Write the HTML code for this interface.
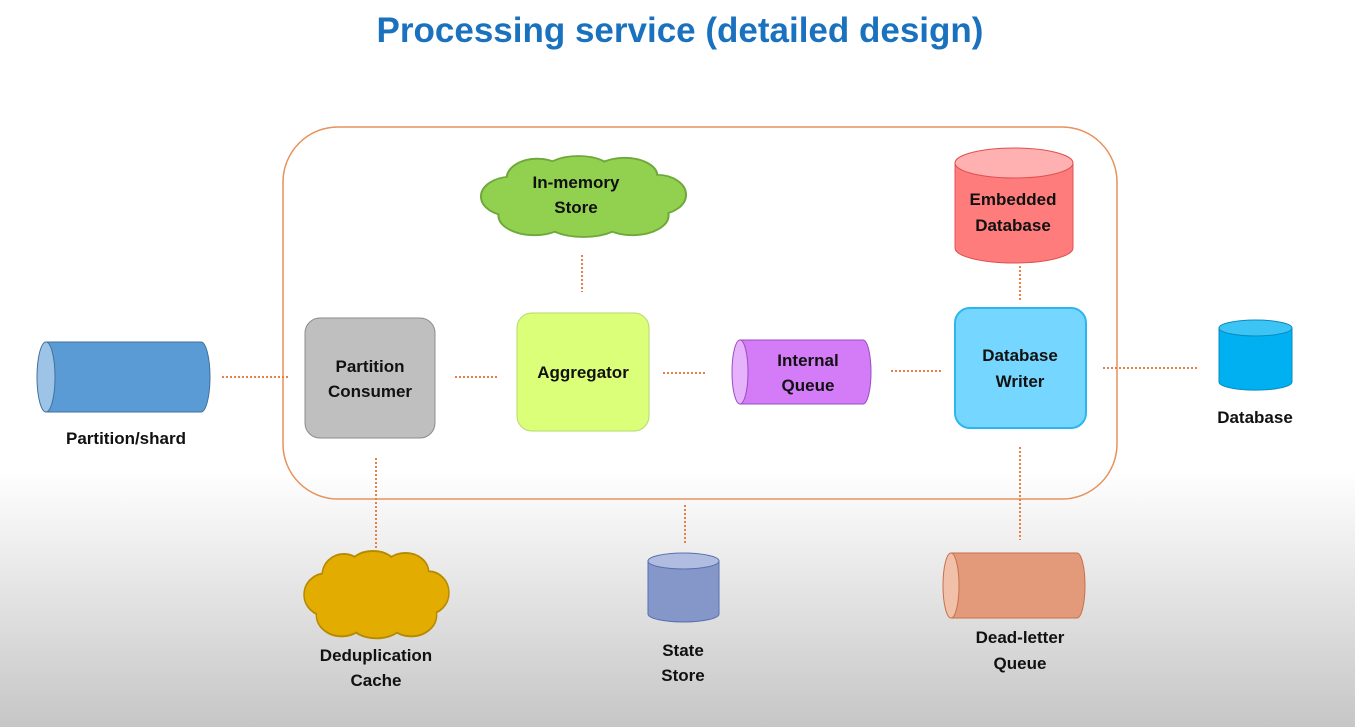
<!DOCTYPE html>
<html><head><meta charset="utf-8"><style>
html,body{margin:0;padding:0}
body{width:1355px;height:727px;overflow:hidden;background:linear-gradient(#fff 0,#fff 470px,#c6c6c6 727px);font-family:"Liberation Sans",sans-serif}
svg{display:block}
text{font-family:"Liberation Sans",sans-serif;font-weight:bold;fill:#111}
</style></head><body>
<svg width="1355" height="727" viewBox="0 0 1355 727">
<defs>
<g id="cl">
<ellipse cx="30" cy="45" rx="30" ry="22"/><ellipse cx="55" cy="25" rx="30" ry="22"/><ellipse cx="95" cy="19" rx="35" ry="19"/><ellipse cx="140" cy="22" rx="32" ry="20"/><ellipse cx="172" cy="43" rx="28" ry="22"/><ellipse cx="148" cy="66" rx="35" ry="22"/><ellipse cx="100" cy="70" rx="40" ry="20"/><ellipse cx="52" cy="66" rx="35" ry="22"/><ellipse cx="100" cy="45" rx="70" ry="30"/>
</g>
</defs>
<text x="680" y="42" text-anchor="middle" font-size="35" style="fill:#1a72bf">Processing service (detailed design)</text>
<rect x="283" y="127" width="834" height="372" rx="55" fill="none" stroke="#e8915a" stroke-width="1.5"/>
<g stroke="#e8804a" stroke-width="2" stroke-dasharray="2 2" fill="none">
<line x1="222" y1="377" x2="290" y2="377"/><line x1="455" y1="377" x2="497" y2="377"/>
<line x1="663" y1="373" x2="705" y2="373"/><line x1="891" y1="371" x2="943" y2="371"/>
<line x1="1103" y1="368" x2="1199" y2="368"/><line x1="1020" y1="266" x2="1020" y2="302"/>
<line x1="582" y1="255" x2="582" y2="292"/><line x1="376" y1="458" x2="376" y2="549"/>
<line x1="685" y1="505" x2="685" y2="545"/><line x1="1020" y1="447" x2="1020" y2="540"/>
</g>
<!-- partition/shard -->
<path d="M46 342 H201 A9 35 0 0 1 201 412 H46 Z" fill="#5b9bd5" stroke="#41719c"/>
<ellipse cx="46" cy="377" rx="9" ry="35" fill="#9dc3e6" stroke="#41719c"/>
<text x="126" y="444" text-anchor="middle" font-size="17">Partition/shard</text>
<rect x="305" y="318" width="130" height="120" rx="15" fill="#bfbfbf" stroke="#8c8c8c"/>
<text x="370" y="372" text-anchor="middle" font-size="17">Partition</text><text x="370" y="397" text-anchor="middle" font-size="17">Consumer</text>
<rect x="517" y="313" width="132" height="118" rx="15" fill="#dbff78" stroke="#b5d96a"/>
<text x="583" y="378" text-anchor="middle" font-size="17">Aggregator</text>
<path d="M740 340 H863 A8 32 0 0 1 863 404 H740 Z" fill="#d47cf7" stroke="#9a4cc0"/>
<ellipse cx="740" cy="372" rx="8" ry="32" fill="#e6b2fb" stroke="#9a4cc0"/>
<text x="808" y="366" text-anchor="middle" font-size="17">Internal</text><text x="808" y="391" text-anchor="middle" font-size="17">Queue</text>
<rect x="955" y="308" width="131" height="120" rx="15" fill="#75d7ff" stroke="#2db5f0" stroke-width="2"/>
<text x="1020" y="361" text-anchor="middle" font-size="17">Database</text><text x="1020" y="387" text-anchor="middle" font-size="17">Writer</text>
<path d="M1219 328 V382 A36 8 0 0 0 1292 382 V328 Z" fill="#00b0f0" stroke="#0a8ac0"/>
<ellipse cx="1255.5" cy="328" rx="36.5" ry="8" fill="#3cc4f5" stroke="#0a8ac0"/>
<text x="1255" y="423" text-anchor="middle" font-size="17">Database</text>
<path d="M955 163 V248 A59 15 0 0 0 1073 248 V163 Z" fill="#ff7c7c" stroke="#e05050"/>
<ellipse cx="1014" cy="163" rx="59" ry="15" fill="#ffb0b0" stroke="#e05050"/>
<text x="1013" y="205" text-anchor="middle" font-size="17">Embedded</text><text x="1013" y="231" text-anchor="middle" font-size="17">Database</text>
<g transform="translate(481,156) scale(1.025,0.9)"><use href="#cl" fill="#92d050" stroke="#6fa83a" stroke-width="2"/><use href="#cl" fill="#92d050" transform="translate(1.5,1.5) scale(0.985,0.967)"/></g>
<text x="576" y="188" text-anchor="middle" font-size="17">In-memory</text><text x="576" y="213" text-anchor="middle" font-size="17">Store</text>
<g transform="translate(304,551) scale(0.725,0.97)"><use href="#cl" fill="#e2ad00" stroke="#b58a00" stroke-width="2"/><use href="#cl" fill="#e2ad00" transform="translate(1.5,1.5) scale(0.985,0.967)"/></g>
<text x="376" y="661" text-anchor="middle" font-size="17">Deduplication</text><text x="376" y="686" text-anchor="middle" font-size="17">Cache</text>
<path d="M648 561 V614 A35.5 8 0 0 0 719 614 V561 Z" fill="#8497c8" stroke="#5670b0"/>
<ellipse cx="683.5" cy="561" rx="35.5" ry="8" fill="#b0bde0" stroke="#5670b0"/>
<text x="683" y="656" text-anchor="middle" font-size="17">State</text><text x="683" y="681" text-anchor="middle" font-size="17">Store</text>
<path d="M951 553 H1077 A8 32.5 0 0 1 1077 618 H951 Z" fill="#e29a7a" stroke="#c8704a"/>
<ellipse cx="951" cy="585.5" rx="8" ry="32.5" fill="#f0c0a8" stroke="#c8704a"/>
<text x="1020" y="643" text-anchor="middle" font-size="17">Dead-letter</text><text x="1020" y="669" text-anchor="middle" font-size="17">Queue</text>
</svg>
</body></html>
